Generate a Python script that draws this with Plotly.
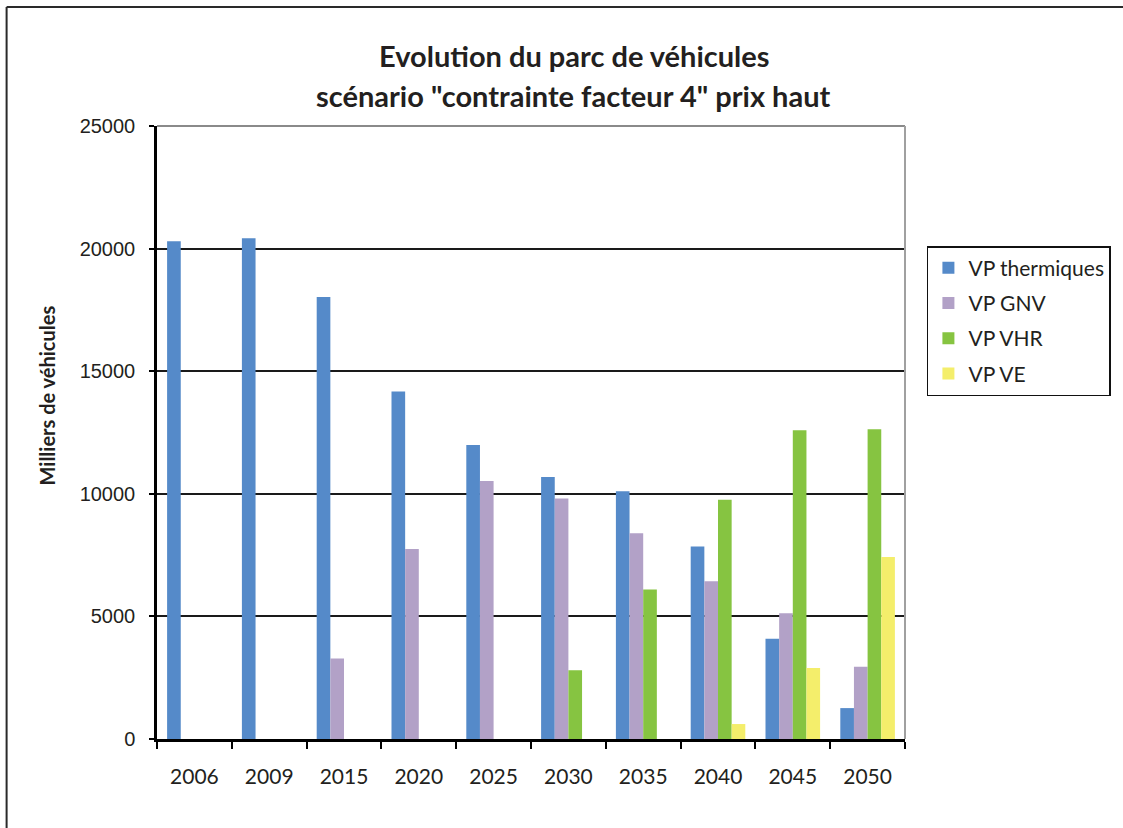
import plotly.graph_objects as go

# Parc de véhicules particuliers (milliers), scénario "contrainte facteur 4" prix haut
annees = ["2006", "2009", "2015", "2020", "2025", "2030", "2035", "2040", "2045", "2050"]
vp_thermiques = [20300, 20420, 18030, 14170, 11990, 10690, 10100, 7850, 4090, 1260]
vp_gnv = [0, 0, 3280, 7750, 10520, 9810, 8390, 6430, 5130, 2950]
vp_vhr = [0, 0, 0, 0, 0, 2800, 6100, 9760, 12590, 12630]
vp_ve = [0, 0, 0, 0, 0, 0, 0, 610, 2900, 7420]

series_names = ["VP thermiques", "VP GNV", "VP VHR", "VP VE"]
series_colors = ["#558AC9", "#B2A1C7", "#86C441", "#F4EE6B"]

W, H = 1123, 828
L, R, T, B = 157, 908, 126, 739  # plot area in pixels

def px(x):
    return (x - L) / (R - L)

def py(y):
    return (B - y) / (B - T)

TEXT = "#231F20"

fig = go.Figure()
for name, vals, col in zip(series_names,
                           [vp_thermiques, vp_gnv, vp_vhr, vp_ve],
                           series_colors):
    fig.add_trace(go.Bar(
        x=annees, y=vals, name=name, legendgroup=name,
        marker=dict(color=col, line=dict(width=0)),
    ))

fig.update_layout(
    width=W, height=H,
    margin=dict(l=L, r=W - R, t=T, b=H - B, pad=0),
    paper_bgcolor="white", plot_bgcolor="white",
    barmode="group", bargap=0.27, bargroupgap=0,
    showlegend=True,
    legend=dict(
        x=px(930), y=py(246), xanchor="left", yanchor="top",
        bgcolor="white", bordercolor="#111", borderwidth=1.5,
        font=dict(family="Lato", size=21, color=TEXT),
        itemwidth=30, tracegroupgap=5,
        itemclick=False,
    ),
    font=dict(family="Lato", color=TEXT),
)

fig.update_xaxes(
    type="category",
    showline=True, linecolor="black", linewidth=2.5,
    ticks="outside", tickson="boundaries", ticklen=7, tickwidth=1.5, tickcolor="black",
    tickfont=dict(family="Lato", size=21, color=TEXT),
    ticklabelstandoff=17,
    showgrid=False,
)
fig.update_yaxes(
    range=[0, 25000], dtick=5000, tick0=0, tickformat="d",
    showline=True, linecolor="black", linewidth=2.5,
    ticks="outside", ticklen=5, tickwidth=1.5, tickcolor="black",
    tickfont=dict(family="Liberation Sans", size=20, color=TEXT),
    ticklabelstandoff=10,
    showgrid=True, gridcolor="#1a1a1a", gridwidth=1.5,
    zeroline=False,
)

# gray frame on top and right of plotting area
fig.add_shape(type="line", xref="paper", yref="paper", x0=0, x1=1, y0=1, y1=1,
              line=dict(color="#8a8a8a", width=2), layer="above")
fig.add_shape(type="line", xref="paper", yref="paper", x0=1, x1=1, y0=0, y1=1,
              line=dict(color="#a0a0a0", width=2), layer="above")

# outer chart border (top and left)
fig.add_shape(type="line", xref="paper", yref="paper",
              x0=px(6), x1=px(W + 5), y0=py(7), y1=py(7),
              line=dict(color="#2a2a2a", width=2))
fig.add_shape(type="line", xref="paper", yref="paper",
              x0=px(6), x1=px(6), y0=py(7), y1=py(H + 5),
              line=dict(color="#2a2a2a", width=2))

# title (two lines)
fig.add_annotation(text="<b>Evolution du parc de véhicules</b>",
                   xref="paper", yref="paper", x=px(576), y=py(55),
                   xanchor="center", yanchor="middle", showarrow=False,
                   font=dict(family="Lato", size=29, color=TEXT))
fig.add_annotation(text="<b>scénario \"contrainte facteur 4\" prix haut</b>",
                   xref="paper", yref="paper", x=px(575), y=py(95),
                   xanchor="center", yanchor="middle", showarrow=False,
                   font=dict(family="Lato", size=29, color=TEXT))

# y-axis title
fig.add_annotation(text="<b>Milliers de véhicules</b>",
                   xref="paper", yref="paper", x=px(47), y=py(395),
                   xanchor="center", yanchor="middle", showarrow=False,
                   textangle=-90,
                   font=dict(family="Lato", size=20, color=TEXT))

fig.write_html("out.html")
